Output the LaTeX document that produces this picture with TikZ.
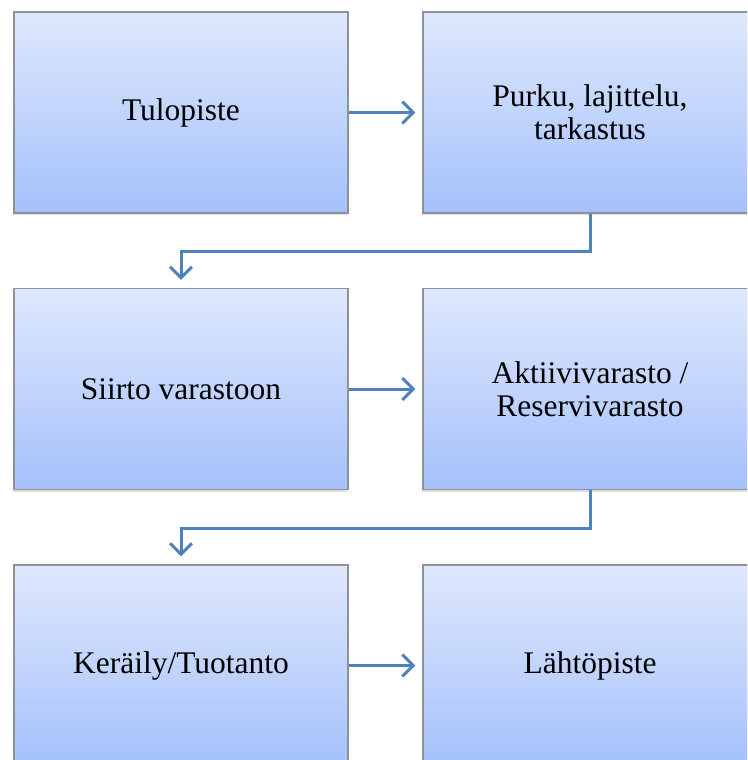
\documentclass[tikz,border=0pt]{standalone}
\usepackage{fontspec}
\setmainfont{Liberation Serif}
\usetikzlibrary{arrows.meta,shadows}
\definecolor{topc}{HTML}{DFE8FD}
\definecolor{botc}{HTML}{A4C1FB}
\definecolor{edge}{HTML}{8E9296}
\definecolor{conn}{HTML}{4F81BD}
\tikzset{
  stepbox/.style={draw=edge, line width=1.2pt, top color=topc, bottom color=botc,
    minimum width=334pt, minimum height=201pt, inner sep=0pt, align=center,
    font=\fontsize{31.5}{33}\selectfont,
    drop shadow={shadow xshift=-1.5pt, shadow yshift=-2pt, opacity=0.25}},
  conn/.style={draw=conn, line width=3pt, -{Straight Barb[length=11pt,width=22pt,line width=3pt]}}
}
\begin{document}
\begin{tikzpicture}[x=1pt,y=-1pt]
\useasboundingbox (0,0) rectangle (747,760);
\clip (0,0) rectangle (747,760);
\node[stepbox] (a) at (181,112.5) {Tulopiste};
\node[stepbox] (b) at (590,112.5) {Purku, lajittelu,\\tarkastus};
\node[stepbox] (c) at (181,389) {Siirto varastoon};
\node[stepbox] (d) at (590,389) {Aktiivivarasto /\\Reservivarasto};
\node[stepbox] (e) at (181,665.5) {Keräily/Tuotanto};
\node[stepbox] (f) at (590,665.5) {Lähtöpiste};
\draw[conn] (a.east) -- ([xshift=-7pt]b.west);
\draw[conn] (c.east) -- ([xshift=-7pt]d.west);
\draw[conn] (e.east) -- ([xshift=-7pt]f.west);
\draw[conn] (b.south) -- ++(0,38) -| ([yshift=8pt]c.north);
\draw[conn] (d.south) -- ++(0,38) -| ([yshift=8pt]e.north);
\end{tikzpicture}
\end{document}
